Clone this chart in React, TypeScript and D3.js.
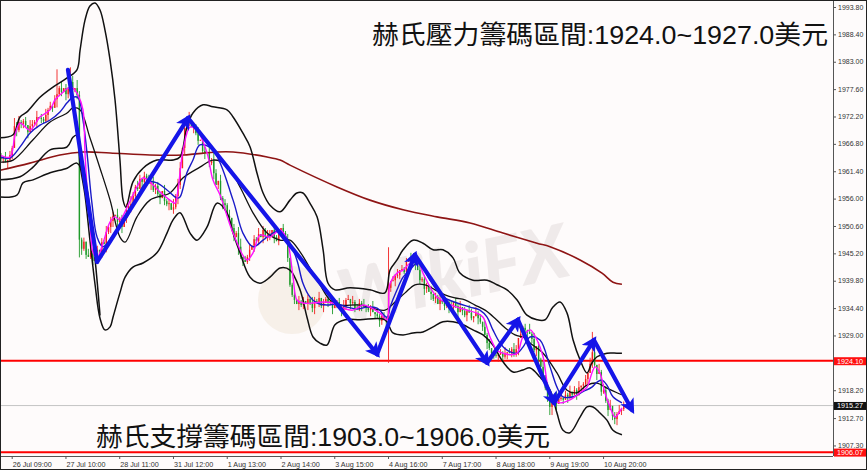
import * as d3 from 'd3';

const W = 867;
const H = 470;
const plotRight = 833;
const plotBottom = 456;

// H1 closes, one per bar (open = previous close)
const closeText = `
1963.9 1964.1 1963.3 1963.7 1964.7 1966.1 1970.4 1969.6 1971.2 1970.8
1971.4 1970.6 1969.2 1970.4 1970.8 1971.2 1972.2 1972.0 1971.8 1971.4
1972.6 1973.6 1974.4 1974.0 1975.7 1976.7 1977.9 1977.1 1977.9 1976.7
1977.7 1979.1 1977.5 1977.9 1976.5 1948.0 1946.2 1947.6 1945.0 1944.6
1945.4 1943.8 1945.6 1946.0 1945.2 1947.5 1947.1 1949.5 1950.5 1951.7
1952.7 1952.9 1951.5 1952.1 1950.5 1952.1 1953.9 1954.6 1955.0 1956.6
1958.4 1958.0 1960.0 1959.4 1960.6 1959.6 1959.0 1959.6 1957.8 1958.6
1957.0 1956.2 1957.6 1955.6 1955.0 1955.2 1953.9 1954.4 1956.6 1958.8
1962.1 1966.1 1970.0 1971.2 1971.6 1970.2 1970.4 1969.0 1967.5 1967.7
1965.5 1965.1 1965.3 1963.1 1963.7 1961.1 1958.8 1959.6 1956.2 1955.2
1954.8 1952.7 1952.3 1950.3 1948.5 1949.3 1946.6 1944.6 1944.0 1943.6
1944.6 1946.0 1946.8 1948.1 1947.7 1949.1 1948.5 1949.9 1948.5 1948.7
1949.1 1949.9 1948.5 1947.7 1949.1 1950.3 1949.3 1947.9 1944.4 1939.1
1937.1 1936.1 1935.3 1935.7 1935.1 1935.9 1935.3 1936.3 1935.5 1934.5
1935.9 1935.5 1936.5 1934.9 1935.5 1936.3 1935.5 1935.9 1934.5 1935.3
1935.7 1934.9 1934.1 1934.9 1936.1 1936.3 1935.5 1935.7 1934.5 1934.3
1935.5 1935.1 1934.8 1934.5 1934.1 1934.7 1933.7 1933.3 1932.9 1932.0
1932.9 1932.4 1931.8 1938.5 1939.8 1940.0 1940.8 1941.0 1942.0 1942.2
1941.6 1943.6 1944.2 1944.0 1944.4 1943.2 1942.0 1940.0 1940.2 1938.3
1938.7 1937.7 1937.3 1936.3 1936.7 1935.3 1936.1 1935.7 1934.9 1935.7
1934.7 1934.5 1935.7 1934.9 1933.7 1934.7 1933.9 1933.1 1933.9 1933.6
1932.5 1932.9 1933.5 1932.5 1931.8 1930.8 1929.2 1927.6 1926.6 1925.6
1925.3 1925.1 1925.3 1925.6 1924.9 1925.6 1925.8 1925.6 1926.4 1925.3
1926.4 1928.6 1929.4 1930.6 1930.2 1929.8 1929.4 1928.4 1926.2 1927.0
1924.3 1922.9 1921.3 1918.7 1916.8 1915.0 1916.0 1916.4 1915.6 1916.6
1916.8 1916.4 1917.4 1917.0 1918.0 1917.4 1918.3 1917.6 1918.9 1919.2
1919.5 1920.5 1921.7 1923.5 1925.8 1923.3 1921.5 1921.9 1918.0 1918.3
1916.2 1914.4 1915.2 1913.2 1912.6 1913.6 1914.2 1914.6 1915.27`;
const closes = closeText.trim().split(/\s+/).map(Number);
const firstOpen = 1964.3;

// wick length per bar, in steps of wickStep
const wickStep = 0.4;
const wickUpText = `
2130214231 1203213021 3120241302 1230421203 3142021312 2031203142 1320213021
2103120413 3021402130 1203142031 2130213402 1302130213 2031202130 1203120213
2130213021 1203120312 2130213021 2213021302 1203120312 2130213021 1302130213
2031203120 1302130213 2031204130 2130312041 3021302130 1203120413 2130213020`;
const wickDownText = `
1203120312 2130213021 1302041203 2031203120 1203120413 3021302130 2103120312
1302130214 2031203120 1302130213 2031204130 1203120312 2130213021 1203120312
3021302130 2031203120 1302130213 2031203120 1302130213 2031203121 3021302130
1203120312 2130213021 1302130213 2031204130 1203120312 2130213021 1302130210`;
const wickUp = wickUpText.replace(/\s/g, '');
const wickDown = wickDownText.replace(/\s/g, '');

const spikes: Record<number, { high?: number; low?: number }> = {
  25: { high: 1981.6 },
  31: { high: 1982.0 },
  35: { low: 1944.5 },
  173: { high: 1946.5, low: 1923.7 },
  245: { low: 1913.4 },
  264: { high: 1929.8 },
  274: { low: 1911.6 },
};

// indicator lines, [bar, price]
const fastMA = [
  [-0.4, 1964.7], [4.0, 1964.3], [6.3, 1968.7], [8.5, 1971.0], [12.9, 1969.6], [17.4, 1972.2],
  [21.9, 1973.6], [24.1, 1975.6], [27.2, 1976.9], [29.9, 1977.9], [32.1, 1977.9], [34.4, 1976.5],
  [36.6, 1973.6], [37.5, 1965.1], [38.8, 1955.8], [39.7, 1951.9], [41.1, 1945.4], [42.9, 1944.4],
  [45.5, 1947.3], [48.7, 1951.5], [50.9, 1952.5], [53.1, 1951.9], [56.3, 1954.4], [60.7, 1958.4],
  [63.4, 1960.2], [66.5, 1959.4], [71.0, 1957.4], [75.4, 1955.8], [77.7, 1955.2], [79.0, 1957.8],
  [81.3, 1965.7], [84.4, 1970.2], [87.5, 1969.6], [92.0, 1965.1], [94.6, 1959.8], [97.8, 1956.8],
  [103.6, 1949.3], [109.8, 1944.0], [112.5, 1945.4], [115.6, 1948.9], [120.1, 1948.5], [124.6, 1949.9],
  [127.7, 1947.9], [130.4, 1940.6], [132.1, 1936.1], [134.8, 1935.5], [139.3, 1935.5], [143.8, 1935.7],
  [148.2, 1935.5], [152.7, 1934.5], [157.1, 1934.1], [161.6, 1935.1], [164.7, 1934.7], [169.2, 1933.5],
  [172.3, 1932.2], [173.7, 1939.4], [176.8, 1941.4], [179.5, 1942.0], [182.6, 1943.4], [185.7, 1944.0],
  [188.4, 1941.4], [191.5, 1938.7], [194.6, 1936.7], [199.1, 1935.5], [203.6, 1934.7], [208.0, 1934.1],
  [212.5, 1933.5], [215.2, 1932.7], [218.3, 1928.8], [221.4, 1926.2], [224.1, 1925.6], [227.2, 1925.3],
  [230.4, 1925.6], [233.0, 1928.8], [236.2, 1930.2], [239.3, 1928.2], [242.0, 1924.9], [244.2, 1918.9],
  [246.4, 1916.4], [249.6, 1915.8], [254.0, 1916.4], [258.5, 1917.8], [261.6, 1918.9], [263.8, 1921.7],
  [265.2, 1922.9], [267.4, 1921.7], [269.6, 1917.8], [271.9, 1915.0], [274.1, 1913.0], [277.2, 1914.8],
];
const slowMA = [
  [-0.4, 1964.3], [4.0, 1964.1], [8.5, 1966.3], [12.9, 1969.0], [17.4, 1970.6], [21.9, 1971.6],
  [26.3, 1973.2], [29.5, 1975.0], [32.1, 1976.1], [34.4, 1976.0], [36.6, 1971.6], [38.4, 1965.1],
  [40.6, 1955.2], [42.9, 1948.5], [45.5, 1946.6], [51.8, 1949.9], [56.3, 1952.5], [60.7, 1956.4],
  [65.2, 1959.4], [69.6, 1959.2], [74.1, 1957.8], [78.6, 1956.2], [79.9, 1956.4], [83.0, 1961.2],
  [85.7, 1963.7], [88.8, 1966.7], [94.6, 1965.7], [103.6, 1955.8], [108.0, 1949.3], [112.5, 1946.6],
  [117.0, 1947.9], [121.4, 1949.3], [124.6, 1949.7], [129.0, 1947.3], [132.1, 1944.0], [134.8, 1939.4],
  [137.9, 1936.7], [141.1, 1935.5], [145.5, 1935.1], [150.0, 1935.3], [154.5, 1934.7], [158.9, 1934.3],
  [163.4, 1934.7], [167.9, 1934.5], [172.3, 1932.7], [173.7, 1934.7], [176.8, 1938.1], [179.5, 1940.6],
  [182.6, 1942.0], [185.7, 1943.4], [188.4, 1942.4], [191.5, 1940.0], [194.6, 1938.1], [197.3, 1936.7],
  [203.6, 1935.5], [209.4, 1934.7], [213.8, 1934.1], [217.0, 1932.7], [219.6, 1930.2], [222.8, 1927.6],
  [225.9, 1926.2], [230.4, 1925.6], [233.0, 1926.8], [236.2, 1928.8], [240.6, 1928.2], [245.1, 1922.9],
  [248.2, 1918.9], [250.9, 1917.0], [255.4, 1917.0], [259.8, 1918.0], [263.8, 1918.9], [266.1, 1919.9],
  [268.3, 1920.3], [270.5, 1919.3], [273.2, 1917.0], [277.2, 1915.8],
];
const bandUpper = [
  [-0.4, 1968.1], [5.4, 1968.7], [8.5, 1972.2], [11.6, 1973.2], [17.4, 1976.1], [23.2, 1978.1],
  [29.5, 1979.9], [33.9, 1981.5], [35.3, 1985.4], [37.5, 1991.3], [39.7, 1994.1], [42.0, 1994.7],
  [44.2, 1993.3], [46.4, 1989.4], [48.7, 1983.4], [50.9, 1975.6], [53.1, 1963.7], [54.5, 1955.8],
  [55.8, 1954.4], [58.9, 1959.4], [63.4, 1962.1], [69.6, 1963.7], [76.8, 1963.7], [79.9, 1964.3],
  [83.0, 1970.2], [85.7, 1973.0], [90.2, 1974.6], [94.6, 1974.2], [100.9, 1973.6], [103.6, 1972.2],
  [108.0, 1969.0], [111.2, 1966.3], [114.3, 1961.1], [117.0, 1957.2], [120.1, 1954.8], [124.6, 1953.5],
  [129.0, 1955.8], [132.1, 1957.2], [134.8, 1957.2], [137.9, 1955.2], [141.1, 1952.5], [143.8, 1946.0],
  [146.0, 1939.4], [149.1, 1938.1], [155.8, 1938.5], [164.7, 1938.1], [171.4, 1937.5], [173.7, 1942.0],
  [176.8, 1944.0], [179.5, 1946.0], [183.9, 1947.9], [188.4, 1947.3], [192.9, 1946.0], [197.3, 1946.0],
  [201.8, 1944.4], [204.9, 1941.4], [210.7, 1940.0], [217.0, 1940.0], [221.4, 1939.1], [225.9, 1938.1],
  [230.4, 1936.1], [234.8, 1933.1], [239.3, 1932.2], [242.9, 1932.2], [246.4, 1934.7], [249.6, 1935.7],
  [252.7, 1933.5], [255.4, 1928.2], [258.5, 1924.3], [261.6, 1921.7], [263.8, 1923.7], [266.1, 1924.9],
  [270.5, 1925.6], [275.0, 1925.6], [277.2, 1925.6],
];
const bandMiddle = [
  [-0.4, 1963.3], [5.4, 1963.7], [14.3, 1967.7], [21.9, 1971.2], [29.5, 1973.0], [32.1, 1974.0],
  [35.3, 1973.6], [39.7, 1968.1], [44.2, 1962.1], [48.7, 1955.8], [53.1, 1948.5], [55.4, 1947.5],
  [60.7, 1952.5], [66.5, 1955.8], [75.4, 1957.2], [81.3, 1960.2], [88.8, 1962.3], [94.6, 1963.7],
  [100.9, 1962.7], [106.7, 1958.4], [112.5, 1953.3], [118.8, 1949.3], [124.6, 1947.9], [129.0, 1947.9],
  [133.5, 1945.6], [137.9, 1942.4], [142.4, 1939.1], [146.9, 1936.1], [151.3, 1935.1], [160.3, 1935.1],
  [171.4, 1934.1], [175.9, 1935.7], [180.4, 1937.5], [184.8, 1939.1], [189.3, 1939.1], [193.8, 1938.1],
  [198.2, 1937.1], [202.7, 1936.5], [207.1, 1936.1], [211.6, 1935.1], [216.1, 1934.1], [220.5, 1932.5],
  [225.0, 1930.6], [229.5, 1929.2], [233.9, 1928.6], [236.2, 1927.6], [242.0, 1925.6], [248.2, 1921.7],
  [252.7, 1918.3], [257.1, 1917.8], [261.6, 1919.3], [266.1, 1919.7], [270.5, 1918.7], [275.0, 1917.8],
  [277.2, 1917.4],
];
const bandLower = [
  [-0.4, 1959.8], [8.5, 1960.4], [14.3, 1962.3], [21.9, 1965.7], [29.5, 1966.3], [32.1, 1968.2],
  [33.9, 1968.6], [35.3, 1962.7], [37.5, 1956.8], [39.7, 1947.9], [42.0, 1939.1], [44.2, 1932.5],
  [46.4, 1930.2], [48.7, 1930.8], [50.0, 1932.7], [53.1, 1937.5], [55.4, 1940.6], [58.9, 1942.6],
  [63.4, 1943.4], [69.6, 1945.4], [74.1, 1949.3], [76.8, 1951.9], [79.9, 1953.3], [84.4, 1949.3],
  [87.5, 1947.9], [92.0, 1950.5], [96.4, 1955.2], [100.9, 1953.3], [103.6, 1949.3], [106.7, 1945.4],
  [111.2, 1940.6], [115.6, 1939.4], [120.1, 1940.6], [124.6, 1942.4], [129.0, 1942.0], [133.5, 1938.1],
  [136.6, 1932.7], [139.3, 1928.8], [142.4, 1927.6], [145.5, 1927.2], [149.1, 1931.2], [153.6, 1932.2],
  [160.3, 1932.2], [171.4, 1932.2], [175.0, 1929.6], [179.5, 1929.2], [183.9, 1929.6], [188.4, 1929.8],
  [192.9, 1930.8], [197.3, 1931.8], [201.8, 1931.8], [206.3, 1931.2], [210.7, 1930.2], [215.2, 1929.2],
  [219.6, 1927.2], [224.1, 1923.9], [228.6, 1921.9], [233.0, 1922.3], [236.2, 1922.7], [240.6, 1920.9],
  [245.1, 1918.3], [248.2, 1913.8], [250.9, 1910.4], [254.0, 1909.9], [258.5, 1913.0], [261.6, 1915.0],
  [264.3, 1915.0], [267.4, 1913.8], [270.5, 1912.4], [273.2, 1910.4], [277.2, 1909.5],
];
const outerLower = [
  [-0.4, 1956.4], [7.1, 1956.8], [9.8, 1959.2], [14.3, 1959.8], [21.9, 1961.2], [29.5, 1962.1],
  [33.9, 1963.1], [37.5, 1959.8], [40.6, 1949.9], [44.2, 1933.1],
];
const longMA = [
  [-0.4, 1961.7], [12.9, 1963.1], [26.3, 1964.7], [36.6, 1965.3], [48.7, 1965.1], [66.5, 1964.7],
  [81.3, 1964.7], [96.4, 1965.3], [103.6, 1965.3], [118.8, 1964.3], [124.6, 1963.7], [129.0, 1962.7],
  [150.0, 1958.4], [164.7, 1955.8], [179.5, 1953.9], [194.6, 1952.5], [209.4, 1951.3], [224.1, 1949.3],
  [239.3, 1947.3], [245.1, 1946.6], [258.5, 1944.0], [268.3, 1941.4], [273.2, 1939.6], [277.2, 1939.2],
];

// hand-drawn zigzag arrows, [bar, price]
const zigzag = [
  [29.9, 1981.5], [42.9, 1943.6], [83.5, 1972.0], [167.9, 1925.4], [184.8, 1945.0],
  [217.0, 1923.7], [230.8, 1932.2], [246.9, 1915.8], [264.7, 1928.2], [281.7, 1914.4],
];

const resistanceLevel = 1924.1;
const supportLevel = 1906.07;
const lastPrice = 1915.27;

// 1923.60 sits under the red 1924.10 tag in the original, so it is not listed
const priceTicks = [
  '1993.80', '1988.40', '1983.00', '1977.60', '1972.20', '1966.80', '1961.40', '1956.00', '1950.60',
  '1945.20', '1939.80', '1934.40', '1929.00', '1918.20', '1912.70', '1907.30',
];
const timeLabels = [
  '26 Jul 09:00', '27 Jul 10:00', '28 Jul 11:00', '31 Jul 12:00', '1 Aug 13:00', '2 Aug 14:00',
  '3 Aug 15:00', '4 Aug 16:00', '7 Aug 17:00', '8 Aug 18:00', '9 Aug 19:00', '10 Aug 20:00',
];
const firstLabelBar = 5;
const barsPerLabel = 24;

const topNote = '赫氏壓力籌碼區間:1924.0~1927.0美元';
const bottomNote = '赫氏支撐籌碼區間:1903.0~1906.0美元';

export default function App() {
  const x = d3.scaleLinear().domain([0, 100]).range([1, 225]);
  const y = d3.scaleLinear().domain([1905.32, 1995.28]).range([plotBottom, 0]);

  const candles = closes.map((c, i) => {
    const o = i === 0 ? firstOpen : closes[i - 1];
    const s = spikes[i] || {};
    const hi = s.high ?? Math.max(o, c) + Number(wickUp[i] || 0) * wickStep;
    const lo = s.low ?? Math.min(o, c) - Number(wickDown[i] || 0) * wickStep;
    return { i, o, c, hi, lo };
  });

  const line = d3
    .line<number[]>()
    .x(d => x(d[0]))
    .y(d => y(d[1]))
    .curve(d3.curveCatmullRom.alpha(0.5));
  const straight = d3.line<number[]>().x(d => x(d[0])).y(d => y(d[1]));

  const axisFont = '"Liberation Sans", Arial, sans-serif';
  const noteFont = '"Liberation Sans", "Noto Sans CJK TC", "Noto Sans CJK SC", sans-serif';

  return (
    <div style={{ position: 'absolute', left: 0, top: 0 }}>
      <svg width={W} height={H} style={{ display: 'block', background: '#fefbfb' }}>
        <defs>
          <clipPath id="plot">
            <rect x={0} y={0} width={plotRight} height={plotBottom} />
          </clipPath>
          <marker id="head" viewBox="0 0 10 10" refX="7" refY="5" markerWidth="15" markerHeight="15"
            markerUnits="userSpaceOnUse" orient="auto">
            <path d="M0,0 L10,5 L0,10 L2.5,5 Z" fill="#1515e8" />
          </marker>
        </defs>

        <g clipPath="url(#plot)">
          {/* watermark */}
          <g opacity={0.5}>
            <circle cx={292} cy={300} r={34} fill="#f1e6d8" />
            <text x={455} y={300} textAnchor="middle" fontFamily="Lato, sans-serif" fontWeight={900}
              fontStyle="italic" fontSize={74} fill="#e2dada" transform="rotate(-12 455 285)">
              WikiFX
            </text>
          </g>

          {/* levels */}
          <line x1={0} x2={plotRight} y1={y(lastPrice)} y2={y(lastPrice)} stroke="#c4c4c4" strokeWidth={1} />
          <line x1={0} x2={plotRight} y1={y(resistanceLevel)} y2={y(resistanceLevel)} stroke="#ff0000" strokeWidth={2} />
          <line x1={0} x2={plotRight} y1={y(supportLevel)} y2={y(supportLevel)} stroke="#ff0000" strokeWidth={2} />

          {/* candles */}
          {candles.map(d => {
            const up = d.c >= d.o;
            const col = up ? '#f22020' : '#1f9a2a';
            const top = y(Math.max(d.o, d.c));
            const h = Math.max(1, y(Math.min(d.o, d.c)) - top);
            return (
              <g key={d.i}>
                <line x1={x(d.i)} x2={x(d.i)} y1={y(d.hi)} y2={y(d.lo)} stroke={col} strokeWidth={0.9} />
                <rect x={x(d.i) - 0.7} y={top} width={1.4} height={h} fill={col} />
              </g>
            );
          })}

          {/* indicators */}
          <path d={line(longMA) || ''} fill="none" stroke="#8e1414" strokeWidth={1.6} />
          <path d={line(outerLower) || ''} fill="none" stroke="#111" strokeWidth={1.5} />
          <path d={line(bandLower) || ''} fill="none" stroke="#111" strokeWidth={1.5} />
          <path d={line(bandUpper) || ''} fill="none" stroke="#111" strokeWidth={1.5} />
          <path d={line(bandMiddle) || ''} fill="none" stroke="#111" strokeWidth={1.3} />
          <path d={line(slowMA) || ''} fill="none" stroke="#1a1ac8" strokeWidth={1.4} />
          <path d={line(fastMA) || ''} fill="none" stroke="#ff10ff" strokeWidth={1.4} />

          {/* zigzag arrows */}
          {zigzag.slice(1).map((p, k) => (
            <path key={k} d={straight([zigzag[k], p]) || ''} fill="none" stroke="#1515e8" strokeWidth={4.2}
              strokeLinecap="round" markerEnd={k === 0 ? undefined : 'url(#head)'} />
          ))}
        </g>

        {/* notes */}
        <text x={372} y={44} fontFamily={noteFont} fontSize={26} fill="#111" textLength={456}
          lengthAdjust="spacingAndGlyphs">{topNote}</text>
        <text x={96} y={446} fontFamily={noteFont} fontSize={26} fill="#111" textLength={454}
          lengthAdjust="spacingAndGlyphs">{bottomNote}</text>

        {/* price axis */}
        <line x1={plotRight + 0.5} x2={plotRight + 0.5} y1={0} y2={plotBottom} stroke="#555" />
        {priceTicks.map(t => (
          <g key={t}>
            <line x1={plotRight} x2={plotRight + 3} y1={y(+t)} y2={y(+t)} stroke="#555" />
            <text x={plotRight + 5} y={y(+t) + 2.1} fontFamily={axisFont} fontSize={7} fill="#333">{t}</text>
          </g>
        ))}
        {[resistanceLevel, supportLevel].map(v => (
          <g key={v}>
            <rect x={plotRight + 1} y={y(v) - 3.6} width={32} height={8} fill="#ff1010" />
            <text x={plotRight + 4} y={y(v) + 2.9} fontFamily={axisFont} fontSize={7.2} fill="#fff">{v.toFixed(2)}</text>
          </g>
        ))}
        <rect x={plotRight + 1} y={y(lastPrice) - 3.6} width={32} height={8} fill="#111" />
        <text x={plotRight + 4} y={y(lastPrice) + 2.9} fontFamily={axisFont} fontSize={7.2} fill="#fff">{lastPrice.toFixed(2)}</text>

        {/* time axis */}
        <line x1={0} x2={plotRight} y1={plotBottom + 0.5} y2={plotBottom + 0.5} stroke="#555" />
        {timeLabels.map((t, k) => {
          const bx = x(firstLabelBar + k * barsPerLabel);
          return (
            <g key={t}>
              <line x1={bx} x2={bx} y1={plotBottom} y2={plotBottom + 3} stroke="#555" />
              <text x={bx + 0.5} y={plotBottom + 10.5} fontFamily={axisFont} fontSize={7.2} fill="#333">{t}</text>
            </g>
          );
        })}

        <rect x={0.5} y={0.5} width={W - 1} height={H - 1} fill="none" stroke="#222" />
      </svg>
    </div>
  );
}
